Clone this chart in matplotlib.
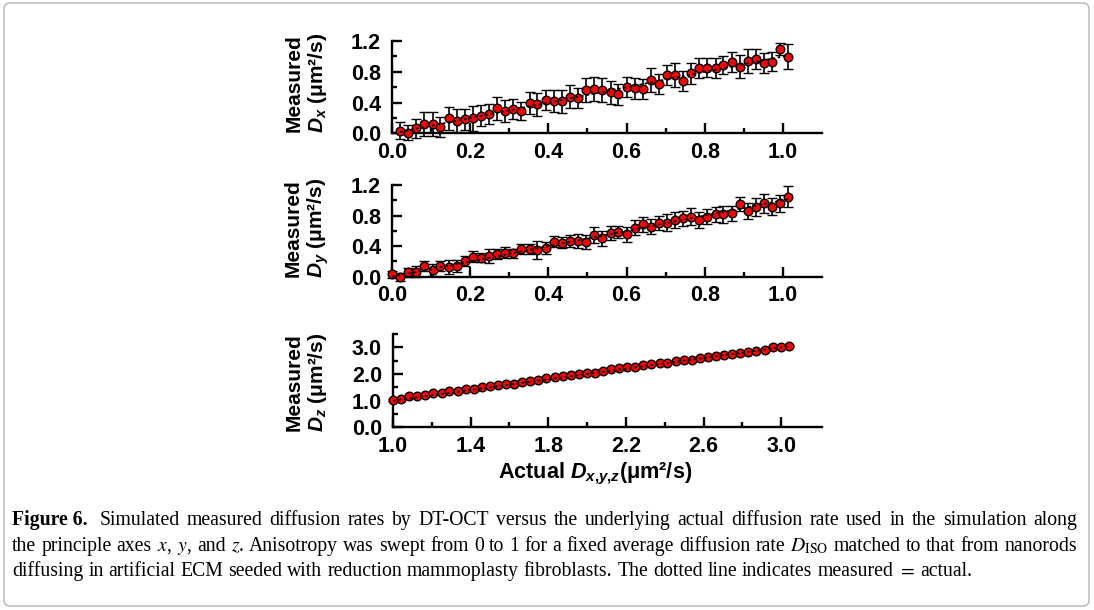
import matplotlib
matplotlib.use('Agg')
import matplotlib.pyplot as plt
from matplotlib.patches import FancyBboxPatch
from matplotlib.transforms import IdentityTransform

plt.rcParams['font.family'] = ['Liberation Sans', 'DejaVu Sans']
plt.rcParams['mathtext.fontset'] = 'custom'
plt.rcParams['mathtext.rm'] = 'Liberation Sans:bold'
plt.rcParams['mathtext.it'] = 'Liberation Sans:bold:italic'
plt.rcParams['mathtext.bf'] = 'Liberation Sans:bold'

# ---------------- data ----------------
actual_xy = [0.000, 0.021, 0.041, 0.062, 0.083, 0.104, 0.124, 0.145, 0.166, 0.186,
             0.207, 0.228, 0.248, 0.269, 0.290, 0.310, 0.331, 0.352, 0.372, 0.393,
             0.414, 0.435, 0.455, 0.476, 0.497, 0.517, 0.538, 0.559, 0.579, 0.600,
             0.621, 0.641, 0.662, 0.683, 0.704, 0.724, 0.745, 0.766, 0.786, 0.807,
             0.828, 0.848, 0.869, 0.890, 0.910, 0.931, 0.952, 0.972, 0.993, 1.014]

actual_x = actual_xy[1:]
measured_x = [0.036, 0.010, 0.067, 0.123, 0.123, 0.080, 0.197, 0.166, 0.184, 0.197,
              0.231, 0.249, 0.327, 0.292, 0.318, 0.292, 0.392, 0.379, 0.434, 0.425,
              0.420, 0.477, 0.456, 0.564, 0.577, 0.564, 0.534, 0.508, 0.607, 0.586,
              0.577, 0.694, 0.638, 0.759, 0.759, 0.685, 0.781, 0.846, 0.854, 0.846,
              0.888, 0.923, 0.867, 0.940, 0.966, 0.910, 0.932, 1.096, 0.996]
err_x = [0.11, 0.10, 0.12, 0.16, 0.15, 0.13, 0.15, 0.15, 0.14, 0.16,
         0.14, 0.13, 0.15, 0.14, 0.13, 0.12, 0.14, 0.15, 0.13, 0.14,
         0.15, 0.15, 0.13, 0.15, 0.15, 0.16, 0.15, 0.14, 0.13, 0.14,
         0.13, 0.15, 0.13, 0.13, 0.15, 0.13, 0.14, 0.13, 0.12, 0.13,
         0.12, 0.13, 0.15, 0.15, 0.13, 0.13, 0.12, 0.08, 0.16]

actual_y = actual_xy
measured_y = [0.031, 0.000, 0.057, 0.065, 0.140, 0.088, 0.140, 0.131, 0.140, 0.205,
              0.262, 0.249, 0.271, 0.297, 0.314, 0.306, 0.363, 0.363, 0.349, 0.371,
              0.458, 0.445, 0.471, 0.471, 0.458, 0.546, 0.502, 0.568, 0.589, 0.555,
              0.641, 0.686, 0.654, 0.699, 0.707, 0.742, 0.764, 0.785, 0.742, 0.785,
              0.817, 0.817, 0.829, 0.947, 0.860, 0.916, 0.960, 0.916, 0.960, 1.047]
err_y = [0.05, 0.05, 0.06, 0.07, 0.07, 0.08, 0.07, 0.09, 0.08, 0.07,
         0.07, 0.06, 0.09, 0.07, 0.07, 0.06, 0.07, 0.06, 0.12, 0.08,
         0.07, 0.07, 0.08, 0.09, 0.09, 0.10, 0.10, 0.09, 0.08, 0.10,
         0.10, 0.10, 0.10, 0.09, 0.11, 0.10, 0.10, 0.11, 0.10, 0.10,
         0.10, 0.11, 0.10, 0.09, 0.10, 0.12, 0.12, 0.11, 0.11, 0.14]

actual_z = [1.000, 1.042, 1.083, 1.125, 1.166, 1.208, 1.250, 1.291, 1.333, 1.374,
            1.416, 1.458, 1.499, 1.541, 1.582, 1.624, 1.666, 1.707, 1.749, 1.790,
            1.832, 1.874, 1.915, 1.957, 1.998, 2.040, 2.082, 2.123, 2.165, 2.206,
            2.248, 2.290, 2.331, 2.373, 2.414, 2.456, 2.498, 2.539, 2.581, 2.622,
            2.664, 2.706, 2.747, 2.789, 2.830, 2.872, 2.914, 2.955, 2.997, 3.038]
measured_z = [1.03, 1.07, 1.16, 1.17, 1.21, 1.29, 1.29, 1.35, 1.36, 1.44,
              1.42, 1.50, 1.54, 1.60, 1.63, 1.61, 1.71, 1.72, 1.79, 1.84,
              1.88, 1.92, 1.97, 2.00, 2.04, 2.05, 2.13, 2.17, 2.23, 2.26,
              2.28, 2.34, 2.38, 2.42, 2.42, 2.48, 2.51, 2.53, 2.60, 2.63,
              2.69, 2.73, 2.76, 2.77, 2.82, 2.86, 2.90, 3.00, 3.03, 3.04]
err_z = [0.04] * 50

xticks_xy = [0.0, 0.2, 0.4, 0.6, 0.8, 1.0]
xticklabels_xy = ['0.0', '0.2', '0.4', '0.6', '0.8', '1.0']
yticks_xy = [0.0, 0.4, 0.8, 1.2]
yticklabels_xy = ['0.0', '0.4', '0.8', '1.2']
xticks_z = [1.0, 1.4, 1.8, 2.2, 2.6, 3.0]
xticklabels_z = ['1.0', '1.4', '1.8', '2.2', '2.6', '3.0']
yticks_z = [0.0, 1.0, 2.0, 3.0]
yticklabels_z = ['0.0', '1.0', '2.0', '3.0']

ylabels = ['Measured\n$D_x$ (μm²/s)', 'Measured\n$D_y$ (μm²/s)', 'Measured\n$D_z$ (μm²/s)']
xlabel = 'Actual $D_{x{,}y{,}z}$(μm²/s)'

# ---------------- figure ----------------
W, H = 1094, 610
fig = plt.figure(figsize=(W / 100, H / 100), dpi=100)
fig.patch.set_facecolor('white')


def px_axes(left, top, right, bottom):
    return fig.add_axes([left / W, 1 - bottom / H, (right - left) / W, (bottom - top) / H])


ax1 = px_axes(392, 41, 822, 133.5)
ax2 = px_axes(392, 185, 822, 276.7)
ax3 = px_axes(393, 334, 822, 427.3)

TICKFS = 15.5


def style(ax, xlim, ylim, xt, xtl, yt, ytl, xminor, yminor):
    ax.set_xlim(*xlim)
    ax.set_ylim(*ylim)
    for s in ('top', 'right'):
        ax.spines[s].set_visible(False)
    for s in ('left', 'bottom'):
        ax.spines[s].set_linewidth(1.7)
    ax.set_xticks(xt)
    ax.set_xticklabels(xtl, fontsize=TICKFS, fontweight='bold')
    ax.set_yticks(yt)
    ax.set_yticklabels(ytl, fontsize=TICKFS, fontweight='bold')
    ax.set_xticks(xminor, minor=True)
    ax.set_yticks(yminor, minor=True)
    ax.tick_params(which='major', direction='in', length=7.5, width=1.7)
    ax.tick_params(which='minor', direction='in', length=3.5, width=1.7)
    ax.tick_params(axis='x', which='both', pad=6)
    ax.tick_params(axis='y', which='both', pad=8)
    ax.patch.set_alpha(0)


def draw(ax, x, y, e):
    ax.errorbar(x, y, yerr=e, fmt='o', ms=6.2, mfc='#ff0000', mec='black', mew=1.0,
                ecolor='black', elinewidth=1.2, capsize=3.5, capthick=1.2,
                clip_on=False, zorder=3)
    ax.plot(x, x, ls=(0, (1.5, 1.5)), color='black', lw=1.3, zorder=4, clip_on=False)


draw(ax1, actual_x, measured_x, err_x)
draw(ax2, actual_y, measured_y, err_y)
draw(ax3, actual_z, measured_z, err_z)

minor_xy = [0.1, 0.3, 0.5, 0.7, 0.9]
style(ax1, (0, 1.10), (0, 1.2), xticks_xy, xticklabels_xy, yticks_xy, yticklabels_xy,
      minor_xy, [0.2, 0.6, 1.0])
style(ax2, (0, 1.10), (0, 1.2), xticks_xy, xticklabels_xy, yticks_xy, yticklabels_xy,
      minor_xy, [0.2, 0.6, 1.0])
style(ax3, (1.0, 3.21), (0, 3.5), xticks_z, xticklabels_z, yticks_z, yticklabels_z,
      [1.2, 1.6, 2.0, 2.4, 2.8], [0.5, 1.5, 2.5, 3.5])

# y labels
for lbl, yc in zip(ylabels, (83, 228, 382)):
    fig.text(307 / W, 1 - yc / H, lbl, rotation=90, ha='center', va='center',
             fontsize=15, fontweight='bold', multialignment='center', linespacing=1.15)

fig.text(595 / W, 1 - 474 / H, xlabel, ha='center', va='center', fontsize=15.6,
         fontweight='bold')

# ---------------- caption (justified) ----------------
cap_lines = [
    [("Figure 6.", True), ("Simulated measured diffusion rates by DT-OCT versus the underlying actual diffusion rate used in the simulation along", False)],
    [("the principle axes $x$, $y$, and $z$. Anisotropy was swept from 0 to 1 for a fixed average diffusion rate $D_{\\mathrm{ISO}}$ matched to that from nanorods", False)],
    [("diffusing in artificial ECM seeded with reduction mammoplasty fibroblasts. The dotted line indicates measured $=$ actual.", False)],
]
cap_base = [525, 551, 576]
X0, X1 = 12, 1077

fig.canvas.draw()
rend = fig.canvas.get_renderer()


def build_caption(fs):
    made = []
    for li, (segs, yb) in enumerate(zip(cap_lines, cap_base)):
        items = []
        for txt, bold in segs:
            if bold:
                items.append((txt, True))
            else:
                for w in txt.split(' '):
                    items.append((w, False))
        arts, widths = [], []
        for w, bold in items:
            t = fig.text(0, 1 - yb / H, w, ha='left', va='baseline', fontsize=fs,
                         family=['Liberation Serif', 'DejaVu Serif'],
                         fontweight='bold' if bold else 'normal', math_fontfamily='stix')
            arts.append(t)
            widths.append(t.get_window_extent(renderer=rend).width)
        made.append((arts, widths, items))
    return made


fs = 14.2
while True:
    made = build_caption(fs)
    gaps = []
    for li, (arts, widths, items) in enumerate(made):
        n = len(items)
        extra = 5.0 if items[0][1] else 0.0
        if li < len(made) - 1:
            gaps.append((X1 - X0 - sum(widths) - extra) / (n - 1))
    if min(gaps) >= 3.2 or fs < 11:
        break
    for arts, _, _ in made:
        for t in arts:
            t.remove()
    fs -= 0.2

for li, (arts, widths, items) in enumerate(made):
    n = len(items)
    extra = [0.0] * n
    if items[0][1]:
        extra[0] = 5.0
    if li < len(made) - 1:
        gap = (X1 - X0 - sum(widths) - sum(extra)) / (n - 1)
    else:
        gap = fs * 100 / 72 * 0.25
    x = X0
    for t, w, ex in zip(arts, widths, extra):
        t.set_x(x / W)
        x += w + gap + ex

# frame
frame = FancyBboxPatch((4, 4), W - 9, H - 7, boxstyle='round,pad=0,rounding_size=6',
                       transform=IdentityTransform(), fill=False, ec='#b5b5b5', lw=1.0)
fig.patches.append(frame)

fig.savefig('out.png', dpi=100)
